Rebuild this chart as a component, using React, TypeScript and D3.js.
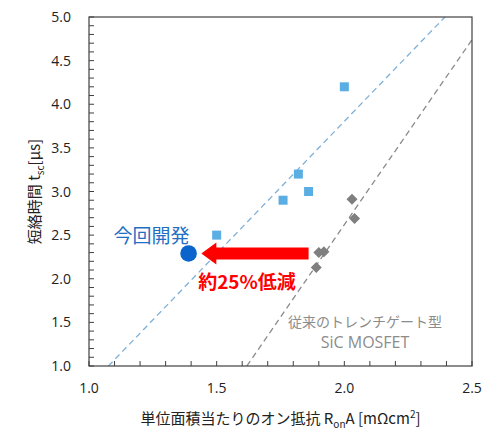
import React from 'react';
import * as d3 from 'd3';

// new device series (squares)
const newX = [2.0, 1.82, 1.86, 1.76, 1.5];
const newY = [4.2, 3.2, 3.0, 2.9, 2.5];

// conventional trench SiC MOSFET (diamonds)
const convX = [2.03, 2.04, 1.9, 1.92, 1.89];
const convY = [2.91, 2.69, 2.3, 2.31, 2.13];

// this development (circle)
const devX = [1.39];
const devY = [2.29];

// dashed trend lines, endpoints in data units
const blueLineX = [1.076, 2.394];
const blueLineY = [1.0, 5.0];
const grayLineX = [1.618, 2.5];
const grayLineY = [1.0, 4.74];

// arrow from conventional to new
const arrowFrom = [1.86, 2.29];
const arrowTo = [1.44, 2.29];

const xTicks = [1.0, 1.5, 2.0, 2.5];
const yTicks = [1.0, 1.5, 2.0, 2.5, 3.0, 3.5, 4.0, 4.5, 5.0];
const minorX = d3.range(10, 26).map((d) => d / 10);
const minorY = d3.range(10, 51).map((d) => d / 10);

const FONT = "'Noto Sans CJK JP', 'Noto Sans', sans-serif";
const LATIN = "'Open Sans', 'Noto Sans', sans-serif";

const App: React.FC = () => {
  const width = 500;
  const height = 446;
  const left = 89;
  const right = 472;
  const top = 17;
  const bottom = 366;

  const x = d3.scaleLinear().domain([1.0, 2.5]).range([left, right]);
  const y = d3.scaleLinear().domain([1.0, 5.0]).range([bottom, top]);

  const line = d3.line<[number, number]>()
    .x((d) => x(d[0]))
    .y((d) => y(d[1]));

  const blueLine = line(blueLineX.map((v, i) => [v, blueLineY[i]]));
  const grayLine = line(grayLineX.map((v, i) => [v, grayLineY[i]]));

  const sq = 9;
  const dia = 5.5;

  // arrow geometry
  const ax0 = x(arrowFrom[0]);
  const ax1 = x(arrowTo[0]);
  const ay = y(arrowFrom[1]);
  const headLen = 15;
  const bodyHalf = 6;
  const headHalf = 11;
  const arrowPath = [
    [ax0, ay - bodyHalf],
    [ax1 + headLen, ay - bodyHalf],
    [ax1 + headLen, ay - headHalf],
    [ax1, ay],
    [ax1 + headLen, ay + headHalf],
    [ax1 + headLen, ay + bodyHalf],
    [ax0, ay + bodyHalf],
  ].map((p) => p.join(',')).join(' ');

  return (
    <svg
      width={width}
      height={height}
      style={{ position: 'absolute', left: 0, top: 0, background: '#fff' }}
      fontFamily={FONT}
    >
      <defs>
        <clipPath id="plot">
          <rect x={left} y={top} width={right - left} height={bottom - top} />
        </clipPath>
      </defs>

      {/* Trend lines */}
      <g clipPath="url(#plot)">
        <path d={blueLine || ''} fill="none" stroke="#7fb0d8" strokeWidth={1.3} strokeDasharray="6,4" />
        <path d={grayLine || ''} fill="none" stroke="#8a8a8a" strokeWidth={1.3} strokeDasharray="6,4" />
      </g>

      {/* Frame */}
      <rect x={left} y={top} width={right - left} height={bottom - top} fill="none" stroke="#404040" strokeWidth={1.2} />

      {/* Minor ticks */}
      {minorX.map((t) => (
        <line key={'mx' + t} x1={x(t)} x2={x(t)} y1={bottom} y2={bottom - 5} stroke="#404040" strokeWidth={1} />
      ))}
      {minorY.map((t) => (
        <line key={'my' + t} x1={left} x2={left + 5} y1={y(t)} y2={y(t)} stroke="#404040" strokeWidth={1} />
      ))}

      {/* Tick labels */}
      {xTicks.map((t) => (
        <text key={'xt' + t} x={x(t)} y={bottom + 27} textAnchor="middle" fontSize={14} fontFamily={LATIN} fill="#222">
          {t.toFixed(1)}
        </text>
      ))}
      {yTicks.map((t) => (
        <text key={'yt' + t} x={left - 18} y={y(t) + 5} textAnchor="end" fontSize={14} fontFamily={LATIN} fill="#222">
          {t.toFixed(1)}
        </text>
      ))}

      {/* Axis titles */}
      <text x={(left + right) / 2} y={424} textAnchor="middle" fontSize={15} fill="#222">
        単位面積当たりのオン抵抗 R<tspan fontSize={10} dy={4}>on</tspan>
        <tspan dy={-4}>A [mΩcm</tspan>
        <tspan fontSize={10} dy={-6}>2</tspan>
        <tspan dy={6}>]</tspan>
      </text>
      <text
        transform={`translate(40, ${(top + bottom) / 2}) rotate(-90)`}
        textAnchor="middle"
        fontSize={15}
        fill="#222"
      >
        短絡時間 t<tspan fontSize={10} dy={4}>sc</tspan>
        <tspan dy={-4}>[μs]</tspan>
      </text>

      {/* Squares */}
      {newX.map((v, i) => (
        <rect key={'s' + i} x={x(v) - sq / 2} y={y(newY[i]) - sq / 2} width={sq} height={sq} fill="#5aaee3" />
      ))}

      {/* Diamonds */}
      {convX.map((v, i) => {
        const cx = x(v);
        const cy = y(convY[i]);
        return (
          <polygon
            key={'d' + i}
            points={`${cx},${cy - dia} ${cx + dia},${cy} ${cx},${cy + dia} ${cx - dia},${cy}`}
            fill="#7f7f7f"
          />
        );
      })}

      {/* Red arrow */}
      <polygon points={arrowPath} fill="#ff0000" />

      {/* This development */}
      {devX.map((v, i) => (
        <circle key={'c' + i} cx={x(v)} cy={y(devY[i])} r={8.3} fill="#0a64cc" />
      ))}

      {/* Annotations */}
      <text x={151.5} y={243} textAnchor="middle" fontSize={19} fill="#1f6fc4">今回開発</text>
      <text x={247} y={289} textAnchor="middle" fontSize={19} fontWeight="bold" fill="#ff0000">約25%低減</text>
      <text x={365} y={327} textAnchor="middle" fontSize={14} fill="#8c8c8c">従来のトレンチゲート型</text>
      <text x={365} y={348} textAnchor="middle" fontSize={16} fontFamily={LATIN} fill="#8c8c8c">SiC MOSFET</text>
    </svg>
  );
};

export default App;
